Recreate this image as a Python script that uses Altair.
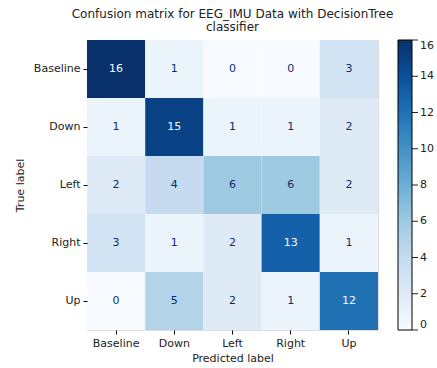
import altair as alt
import pandas as pd

labels = ["Baseline", "Down", "Left", "Right", "Up"]
matrix = [
    [16, 1, 0, 0, 3],
    [1, 15, 1, 1, 2],
    [2, 4, 6, 6, 2],
    [3, 1, 2, 13, 1],
    [0, 5, 2, 1, 12],
]
legend_ticks = [0, 2, 4, 6, 8, 10, 12, 14, 16]
blues = ['#f7fbff', '#deebf7', '#c6dbef', '#9ecae1', '#6baed6',
         '#4292c6', '#2171b5', '#08519c', '#08306b']

rows = []
for i, t in enumerate(labels):
    for j, p in enumerate(labels):
        rows.append({"true": t, "pred": p, "count": matrix[i][j]})
df = pd.DataFrame(rows)
ticks_df = pd.DataFrame({"tick": legend_ticks})

FONT = "DejaVu Sans"

x = alt.X("pred:N", sort=labels, title="Predicted label",
          scale=alt.Scale(paddingInner=0, paddingOuter=0),
          axis=alt.Axis(labelAngle=0, labelFontSize=11, titleFontSize=11,
                        labelFont=FONT, titleFont=FONT, tickSize=4,
                        tickColor="black", domain=False, labelColor="#222",
                        titleColor="#222", labelPadding=3, titlePadding=4,
                        titleFontWeight="normal"))
y = alt.Y("true:N", sort=labels, title="True label",
          scale=alt.Scale(paddingInner=0, paddingOuter=0),
          axis=alt.Axis(labelFontSize=11, titleFontSize=11, labelFont=FONT,
                        titleFont=FONT, tickSize=4, tickColor="black",
                        domain=False, labelColor="#222", titleColor="#222",
                        labelPadding=3, titlePadding=8,
                        titleFontWeight="normal"))

heat = alt.Chart(df).mark_rect().encode(
    x=x, y=y,
    color=alt.Color("count:Q",
                    scale=alt.Scale(domain=legend_ticks, range=blues,
                                    interpolate="rgb"),
                    legend=alt.Legend(title=None, orient="none",
                                      legendX=311, legendY=0,
                                      direction="vertical",
                                      gradientLength=290,
                                      gradientThickness=14,
                                      gradientStrokeColor="black",
                                      gradientStrokeWidth=1,
                                      values=legend_ticks,
                                      labelFontSize=11, labelFont=FONT,
                                      labelColor="#222", labelOffset=8)),
)

text = alt.Chart(df).mark_text(font=FONT, fontSize=11).encode(
    x=alt.X("pred:N", sort=labels),
    y=alt.Y("true:N", sort=labels),
    text="count:Q",
    color=alt.condition(alt.datum.count > 8, alt.value("#f7fbff"),
                        alt.value("#08306b")),
)

matrix_layer = alt.layer(heat, text)

tick_marks = alt.Chart(ticks_df).mark_rule(
    color="#222", strokeWidth=1, orient="horizontal", clip=False
).encode(
    y=alt.Y("tick:Q", scale=alt.Scale(domain=[0, 16], nice=False, zero=True),
            axis=None),
    x=alt.value(325),
    x2=alt.value(331),
)

chart = alt.layer(matrix_layer, tick_marks).resolve_scale(y="independent").properties(
    width=291, height=290,
    title=alt.Title(["Confusion matrix for EEG_IMU Data with DecisionTree",
                     "classifier"],
                    font=FONT, fontSize=12, fontWeight="normal",
                    color="#222", anchor="middle", offset=6, lineHeight=13),
    autosize=alt.AutoSizeParams(type="none"),
    padding={"left": 87, "top": 40, "right": 59, "bottom": 38},
).configure_view(stroke="black", strokeWidth=1).configure(background="white")

chart.save("out.html", embed_options={"renderer": "svg", "actions": False})
